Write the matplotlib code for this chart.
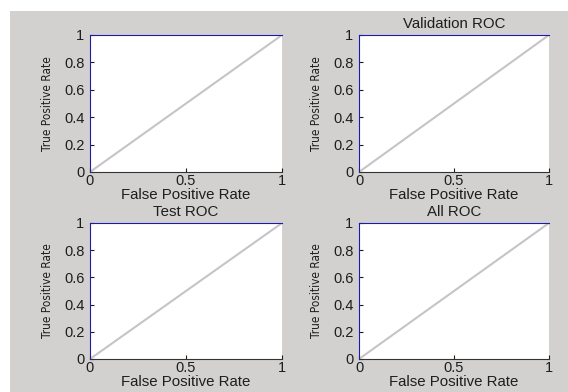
import matplotlib.pyplot as plt
from matplotlib.patches import Rectangle

plt.rcParams['font.family'] = ['Liberation Sans', 'DejaVu Sans']

titles = ["", "Validation ROC", "Test ROC", "All ROC"]
fpr = [0, 1]
tpr = [0, 1]
xticks = [0, 0.5, 1]
yticks = [0, 0.2, 0.4, 0.6, 0.8, 1]
xtick_labels = ["0", "0.5", "1"]
ytick_labels = ["0", "0.2", "0.4", "0.6", "0.8", "1"]

W, H = 568, 392
fig = plt.figure(figsize=(W / 100, H / 100), dpi=100, facecolor='white')
fig.patches.append(Rectangle((10 / W, 0), 1 - 10 / W, 1 - 11 / H,
                             transform=fig.transFigure, facecolor='#d3d1d0',
                             edgecolor='none', zorder=-10))

# axes boxes in pixels: left, right, top, bottom
boxes = [(90, 282, 35, 172), (359, 549, 35, 172),
         (90, 282, 223, 359), (359, 549, 223, 359)]

for (l, r, t, b), title in zip(boxes, titles):
    ax = fig.add_axes([l / W, 1 - b / H, (r - l) / W, (b - t) / H])
    ax.plot(fpr, tpr, color='#c8c3c8', lw=1.5)
    ax.set_xlim(0, 1)
    ax.set_ylim(0, 1)
    ax.set_xticks(xticks, xtick_labels, fontsize=10.5)
    ax.set_yticks(yticks, ytick_labels, fontsize=10.5)
    ax.tick_params(direction='in', length=3, width=0.8, colors='#1e1e1e',
                   top=False, right=False)
    ax.tick_params(axis='x', pad=1.5)
    ax.tick_params(axis='y', pad=4)
    ax.spines['top'].set_color('#1c1ca8')
    ax.spines['left'].set_color('#1c1ca8')
    ax.spines['bottom'].set_color('#333333')
    ax.spines['right'].set_visible(False)
    ax.set_xlabel("False Positive Rate", fontsize=10.8, labelpad=0, color='#1e1e1e')
    ax.set_ylabel("True Positive Rate", fontsize=8.5, labelpad=7, color='#1e1e1e',
                  family='DejaVu Sans', fontstretch='condensed')
    if title:
        ax.set_title(title, fontsize=10.8, pad=5, color='#1e1e1e')

fig.savefig('out.png', dpi=100, facecolor='white')
